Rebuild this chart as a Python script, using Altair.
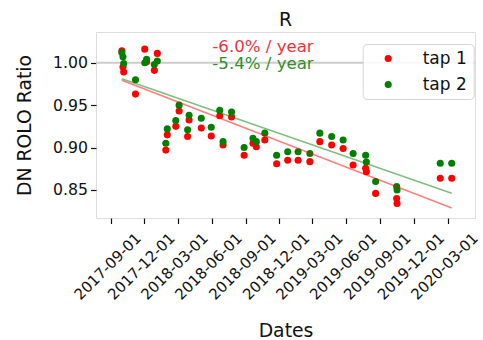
import altair as alt
import pandas as pd

dates = ["2017-10-01", "2017-10-04", "2017-10-06", "2017-11-07", "2017-12-02", "2017-12-07",
         "2017-12-28", "2018-01-05", "2018-01-28", "2018-02-01", "2018-02-24", "2018-03-05",
         "2018-03-28", "2018-04-01", "2018-05-04", "2018-05-31", "2018-06-23", "2018-07-02",
         "2018-07-25", "2018-08-28", "2018-09-21", "2018-09-30", "2018-10-23", "2018-11-24",
         "2018-12-24", "2019-01-21", "2019-02-22", "2019-03-21", "2019-04-22", "2019-05-23",
         "2019-06-19", "2019-07-23", "2019-07-25", "2019-08-19", "2019-10-15", "2019-10-16",
         "2020-02-10", "2020-03-12"]
tap1 = [1.014, 0.995, 0.989, 0.963, 1.016, 1.001, 0.991, 1.011, 0.897, 0.915, 0.925, 0.943,
        0.913, 0.9325, 0.923, 0.9137, 0.9376, 0.903, 0.936, 0.891, 0.905, 0.901, 0.909, 0.881,
        0.885, 0.885, 0.8834, 0.907, 0.903, 0.899, 0.8795, 0.8756, 0.8716, 0.846, 0.840, 0.834,
        0.8638, 0.8638]
tap2 = [1.012, 1.007, 0.999, 0.980, 1.000, 1.004, 0.998, 1.002, 0.905, 0.922, 0.932, 0.950,
        0.921, 0.938, 0.9345, 0.924, 0.944, 0.907, 0.942, 0.900, 0.911, 0.907, 0.917, 0.891,
        0.895, 0.895, 0.893, 0.917, 0.913, 0.909, 0.893, 0.891, 0.883, 0.860, 0.854, 0.850,
        0.8815, 0.8815]

series = ["tap 1", "tap 2"]
colors = ["#ff0000", "#008000"]

fit_dates = ["2017-10-01", "2020-03-12"]
fit_tap1 = [0.9793, 0.8287]
fit_tap2 = [0.9810, 0.8462]

rate_labels = ["-6.0% / year", "-5.4% / year"]
tick_dates = [(2017, 9), (2017, 12), (2018, 3), (2018, 6), (2018, 9), (2018, 12),
              (2019, 3), (2019, 6), (2019, 9), (2019, 12), (2020, 3)]
y_ticks = [0.85, 0.90, 0.95, 1.00]

pts = pd.DataFrame({
    "date": dates + dates,
    "ratio": tap1 + tap2,
    "series": ["tap 1"] * len(dates) + ["tap 2"] * len(dates),
})
fits = pd.DataFrame({
    "date": fit_dates + fit_dates,
    "ratio": fit_tap1 + fit_tap2,
    "series": ["tap 1"] * 2 + ["tap 2"] * 2,
})

FONT = "DejaVu Sans"
W, H = 379, 186

xscale = alt.Scale(type="utc", domain=[alt.DateTime(year=2017, month=7, date=23, utc=True),
                                       alt.DateTime(year=2020, month=5, date=14, utc=True)])
yscale = alt.Scale(domain=[0.817, 1.0362], nice=False, zero=False)

xaxis = alt.Axis(
    values=[alt.DateTime(year=y, month=m, date=1, utc=True) for y, m in tick_dates],
    format="%Y-%m-%d", labelAngle=-45, labelAlign="center", labelBaseline="alphabetic",
    labelPadding=46, labelFontSize=15, labelFont=FONT,
    labelColor="#111", labelOverlap=False, labelFlush=False, labelBound=False,
    tickSize=5.5, tickColor="#111", tickWidth=1.2, domain=False, grid=False,
    title="Dates", titleFont=FONT, titleFontSize=18.8,
    titleFontWeight="normal", titleColor="#111", titleX=W / 2, titleY=112,
    titleBaseline="middle", titleAlign="center")
yaxis = alt.Axis(
    values=y_ticks, format=".2f", labelFontSize=15.7, labelFont=FONT, labelColor="#111",
    labelPadding=3, tickSize=5.5, tickColor="#111", tickWidth=1.2, domain=False, grid=False,
    title="DN ROLO Ratio", titleFont=FONT, titleFontSize=18.8, titleFontWeight="normal",
    titleColor="#111", titleAngle=-90, titleX=-72, titleY=H / 2, titleBaseline="middle",
    titleAlign="center")

base_rule = alt.Chart(pd.DataFrame({"v": [1.0]})).mark_rule(
    color="#cccccc", strokeWidth=2).encode(y=alt.Y("v:Q", scale=yscale, axis=yaxis))

points = alt.Chart(pts).mark_circle(size=50, opacity=1).encode(
    x=alt.X("date:T", scale=xscale, axis=xaxis),
    y=alt.Y("ratio:Q", scale=yscale, axis=yaxis),
    color=alt.Color("series:N", scale=alt.Scale(domain=series, range=colors),
                    legend=alt.Legend(
                        title=None, orient="none", legendX=266.7, legendY=12,
                        labelFont=FONT, labelFontSize=17, labelColor="#111",
                        symbolSize=50, symbolType="circle", symbolOffset=11,
                        labelOffset=26, rowPadding=8, padding=6,
                        strokeColor="#d5d5d5", cornerRadius=4,
                        fillColor="rgba(255,255,255,0.85)")),
)

lines = alt.Chart(fits).mark_line(strokeWidth=1.6, opacity=0.5).encode(
    x=alt.X("date:T", scale=xscale, axis=xaxis),
    y=alt.Y("ratio:Q", scale=yscale, axis=yaxis),
    stroke=alt.Stroke("series:N", scale=alt.Scale(domain=series, range=colors), legend=None),
)

txt = pd.DataFrame({"label": rate_labels, "series": series})
text1 = alt.Chart(txt.iloc[[0]]).mark_text(
    font=FONT, fontSize=16.6, color="#ee3340", align="center", baseline="middle").encode(
    text="label:N", x=alt.value(167), y=alt.value(15))
text2 = alt.Chart(txt.iloc[[1]]).mark_text(
    font=FONT, fontSize=16.6, color="#2e8f2e", align="center", baseline="middle").encode(
    text="label:N", x=alt.value(167), y=alt.value(31.5))

chart = alt.layer(base_rule, points, lines, text1, text2).resolve_scale(
    color="independent", stroke="independent"
).properties(
    width=W, height=H,
    title=alt.Title("R", font=FONT, fontSize=18.8, fontWeight="normal", color="#111",
                    anchor="middle", baseline="alphabetic", offset=7, dy=20),
    autosize=alt.AutoSizeParams(type="none"),
    padding={"left": 96, "top": 32, "right": 8, "bottom": 122},
).configure_view(stroke="#111", strokeWidth=1.2).configure(background="white")

chart.save("out.html", embed_options={"renderer": "svg", "actions": False})
